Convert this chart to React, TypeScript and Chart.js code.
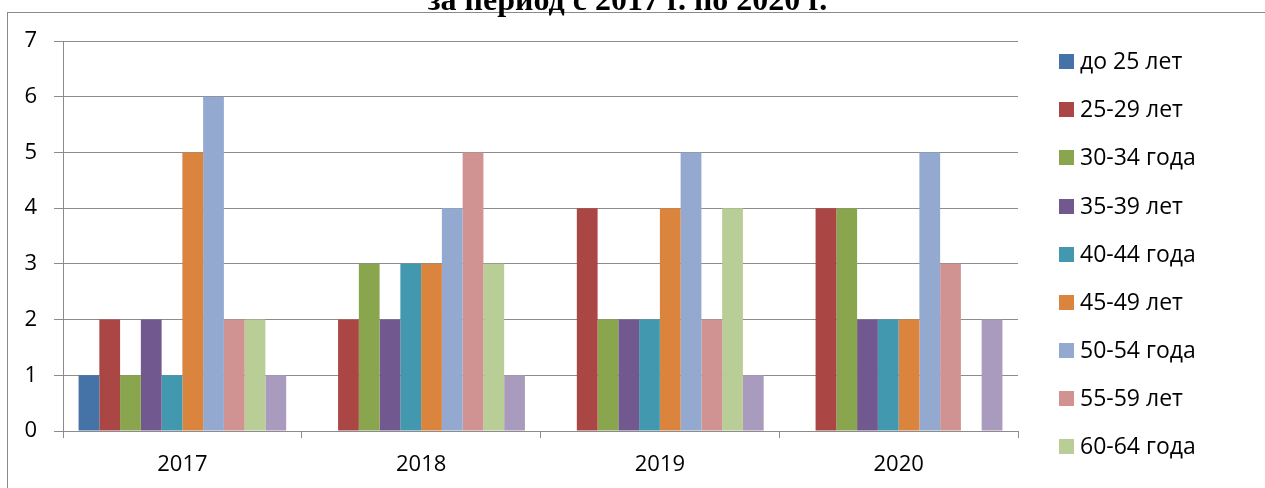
import React, { useEffect, useRef } from "react";
import { Chart, registerables } from "chart.js";

Chart.register(...registerables);

// ---- data ----
const categories = ["2017", "2018", "2019", "2020"];
const yTicks = [0, 1, 2, 3, 4, 5, 6, 7];
const titleText = "за период с 2017 г. по 2020 г.";

const seriesLabels = [
  "до 25 лет",
  "25-29 лет",
  "30-34 года",
  "35-39 лет",
  "40-44 года",
  "45-49 лет",
  "50-54 года",
  "55-59 лет",
  "60-64 года",
  "65 лет и старше",
];

const under25 = [1, 0, 0, 0];
const age25_29 = [2, 2, 4, 4];
const age30_34 = [1, 3, 2, 4];
const age35_39 = [2, 2, 2, 2];
const age40_44 = [1, 3, 2, 2];
const age45_49 = [5, 3, 4, 2];
const age50_54 = [6, 4, 5, 5];
const age55_59 = [2, 5, 2, 3];
const age60_64 = [2, 3, 4, 0];
const age65plus = [1, 1, 1, 2];

const seriesValues = [
  under25, age25_29, age30_34, age35_39, age40_44,
  age45_49, age50_54, age55_59, age60_64, age65plus,
];

const seriesColors = [
  "#4572A7", "#AA4643", "#89A54E", "#71588F", "#4198AF",
  "#DB843D", "#93A9CF", "#D19392", "#B9CD96", "#A99BBD",
];

// ---- styles ----
const W = 1265;
const H = 488;
const FONT = '"Open Sans", "DejaVu Sans", sans-serif';
const GRID = "#8c8c8c";

const framePlugin = {
  id: "frameTitleLegend",
  beforeDraw(chart: any) {
    const ctx = chart.ctx;
    ctx.save();
    ctx.fillStyle = "#fff";
    ctx.fillRect(0, 0, W, H);
    ctx.fillStyle = "#8a8a8a";
    ctx.fillRect(7, 12, 1, H - 12);
    ctx.fillRect(7, 12, W - 7, 1);
    ctx.restore();
  },
  afterDraw(chart: any) {
    const ctx = chart.ctx;
    ctx.save();
    // title (mostly cut off at the top)
    ctx.fillStyle = "#000";
    ctx.font = 'bold 32px "Liberation Serif", "Times New Roman", serif';
    ctx.textAlign = "center";
    ctx.textBaseline = "alphabetic";
    ctx.fillText(titleText, 627.5, 10);
    // legend (clipped like the reference)
    ctx.beginPath();
    ctx.rect(1040, 20, 225, 460);
    ctx.clip();
    ctx.font = "23px " + FONT;
    ctx.textAlign = "left";
    ctx.textBaseline = "middle";
    chart.data.datasets.forEach((ds: any, i: number) => {
      const cy = 61.7 + i * 48.1;
      ctx.fillStyle = ds.backgroundColor;
      ctx.fillRect(1059, Math.round(cy - 7.5), 15, 15);
      ctx.fillStyle = "#000";
      ctx.fillText(ds.label, 1080, cy + 1);
    });
    ctx.restore();
  },
};

export default function App() {
  const ref = useRef<HTMLCanvasElement | null>(null);

  useEffect(() => {
    document.body.style.margin = "0";
    let chart: Chart | null = null;
    let cancelled = false;
    const make = () => {
      if (cancelled || !ref.current) return;
      chart = new Chart(ref.current, {
        type: "bar",
        data: {
          labels: categories,
          datasets: seriesLabels.map((label, i) => ({
            label,
            data: seriesValues[i],
            backgroundColor: seriesColors[i],
            borderWidth: 0,
            categoryPercentage: 10 / 11.5,
            barPercentage: 1,
          })),
        },
        options: {
          responsive: false,
          animation: false,
          devicePixelRatio: 1,
          layout: { padding: { top: 41, right: W - 1018, left: 0, bottom: 0 } },
          plugins: {
            legend: { display: false },
            title: { display: false },
            tooltip: { enabled: false },
          },
          scales: {
            x: {
              afterFit: (s: any) => {
                s.height = 57;
              },
              grid: {
                display: true,
                drawOnChartArea: false,
                drawTicks: true,
                tickLength: 7,
                color: GRID,
                offset: true,
              },
              border: { display: true, color: GRID, width: 1 },
              ticks: {
                color: "#000",
                font: { family: FONT, size: 22 },
                padding: 14,
                maxRotation: 0,
              },
            },
            y: {
              min: 0,
              max: 7,
              afterFit: (s: any) => {
                s.width = 63;
              },
              afterBuildTicks: (s: any) => {
                s.ticks = yTicks.map((v) => ({ value: v }));
              },
              grid: {
                color: GRID,
                lineWidth: 1,
                drawTicks: true,
                tickLength: 9,
              },
              border: { display: true, color: GRID, width: 1 },
              ticks: {
                color: "#000",
                font: { family: FONT, size: 22 },
                padding: 17,
                stepSize: 1,
              },
            },
          },
        },
        plugins: [framePlugin],
      });
    };
    const fontsApi: any = (document as any).fonts;
    if (fontsApi && fontsApi.load) {
      Promise.all([
        fontsApi.load('22px "Open Sans"'),
        fontsApi.load('bold 32px "Liberation Serif"'),
      ])
        .catch(() => null)
        .then(make);
    } else {
      make();
    }
    return () => {
      cancelled = true;
      if (chart) chart.destroy();
    };
  }, []);

  return (
    <div
      style={{
        position: "fixed",
        left: 0,
        top: 0,
        width: W,
        height: H,
        overflow: "hidden",
        background: "#fff",
      }}
    >
      <canvas ref={ref} width={W} height={H} style={{ display: "block" }} />
    </div>
  );
}
